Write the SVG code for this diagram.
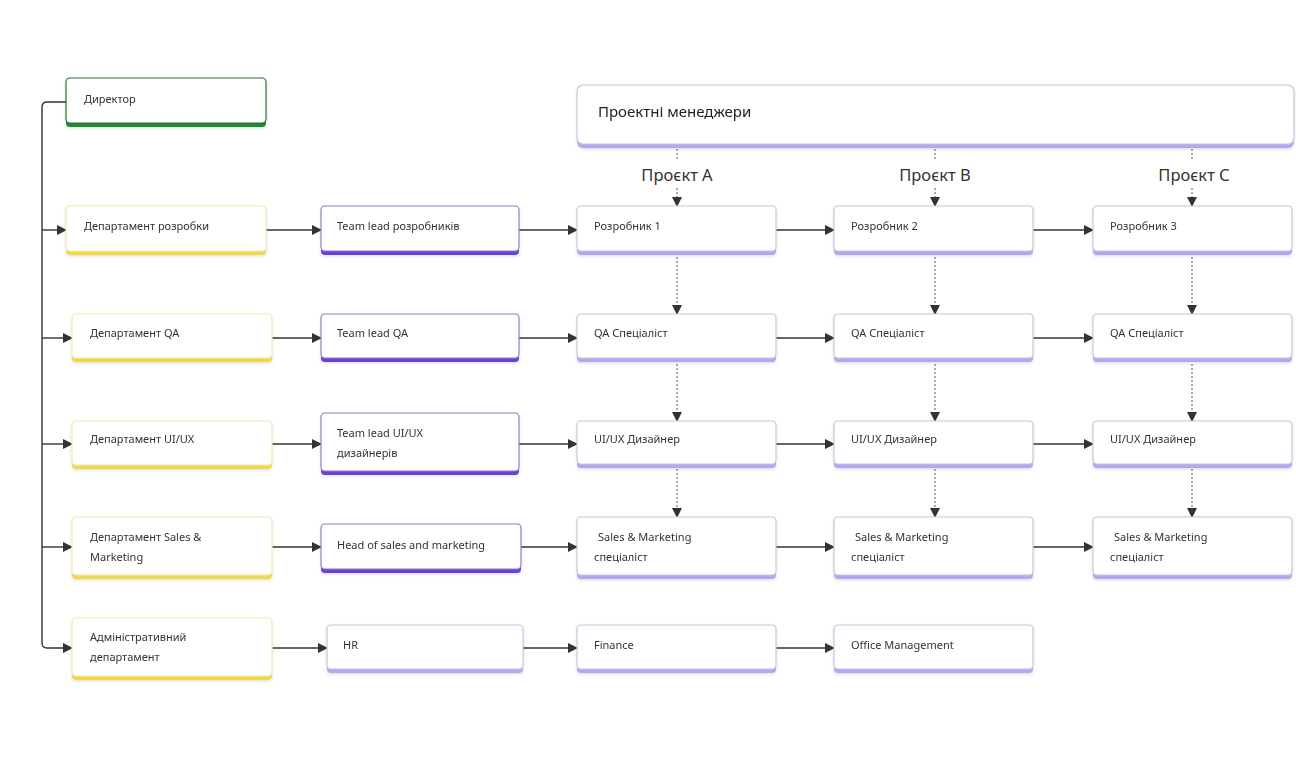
<svg xmlns="http://www.w3.org/2000/svg" width="1296" height="758" viewBox="0 0 1296 758">
<style>
text{font-family:"Noto Sans","Liberation Sans",sans-serif;font-size:11px;fill:#333}
.big{font-size:15px;fill:#222}
.proj{font-size:16.5px;fill:#333}
.card{fill:#fff;stroke-width:1.2}
.g .acc{fill:#1f8a33}.g .card{stroke:#2f6e3a}
.y .acc{fill:#f0d84a}.y .card{stroke:#f3eab0}
.p .acc{fill:#6a3fd8}.p .card{stroke:#8f80c8}
.l .acc{fill:#b3a6f2}.l .card{stroke:#c9c6dc}
.c{fill:none;stroke:#333;stroke-width:1.4}
.d{fill:none;stroke:#555;stroke-width:1;stroke-dasharray:2 2}
</style>
<defs>
<marker id="ah" viewBox="0 0 10 10" refX="9" refY="5" markerWidth="10" markerHeight="10" markerUnits="userSpaceOnUse" orient="auto"><path d="M0,0 L10,5 L0,10 z" fill="#333"/></marker>
<filter id="sh" x="-5%" y="-20%" width="110%" height="150%"><feDropShadow dx="0" dy="1.5" stdDeviation="1.5" flood-color="#000" flood-opacity="0.12"/></filter>
</defs>
<rect width="1296" height="758" fill="#fff"/>

<g id="connectors">
<path class="c" d="M66,102 H47 Q42,102 42,107 V643 Q42,648 47,648 H72" marker-end="url(#ah)"/>
<path class="c" d="M42,230 H66" marker-end="url(#ah)"/>
<path class="c" d="M42,338 H72" marker-end="url(#ah)"/>
<path class="c" d="M42,444 H72" marker-end="url(#ah)"/>
<path class="c" d="M42,547 H72" marker-end="url(#ah)"/>
<path class="c" d="M266,230 H321" marker-end="url(#ah)"/>
<path class="c" d="M272,338 H321" marker-end="url(#ah)"/>
<path class="c" d="M272,444 H321" marker-end="url(#ah)"/>
<path class="c" d="M272,547 H321" marker-end="url(#ah)"/>
<path class="c" d="M272,648 H327" marker-end="url(#ah)"/>
<path class="c" d="M519,230 H577" marker-end="url(#ah)"/>
<path class="c" d="M519,338 H577" marker-end="url(#ah)"/>
<path class="c" d="M519,444 H577" marker-end="url(#ah)"/>
<path class="c" d="M521,547 H577" marker-end="url(#ah)"/>
<path class="c" d="M523,648 H577" marker-end="url(#ah)"/>
<path class="c" d="M776,230 H834" marker-end="url(#ah)"/>
<path class="c" d="M776,338 H834" marker-end="url(#ah)"/>
<path class="c" d="M776,444 H834" marker-end="url(#ah)"/>
<path class="c" d="M776,547 H834" marker-end="url(#ah)"/>
<path class="c" d="M776,648 H834" marker-end="url(#ah)"/>
<path class="c" d="M1033,230 H1093" marker-end="url(#ah)"/>
<path class="c" d="M1033,338 H1093" marker-end="url(#ah)"/>
<path class="c" d="M1033,444 H1093" marker-end="url(#ah)"/>
<path class="c" d="M1033,547 H1093" marker-end="url(#ah)"/>
<path class="d" d="M677,149 V160 M677,188 V206" marker-end="url(#ah)"/>
<path class="d" d="M935,149 V160 M935,188 V206" marker-end="url(#ah)"/>
<path class="d" d="M1192,149 V160 M1192,188 V206" marker-end="url(#ah)"/>
<path class="d" d="M677,257 V314" marker-end="url(#ah)"/>
<path class="d" d="M935,257 V314" marker-end="url(#ah)"/>
<path class="d" d="M1192,257 V314" marker-end="url(#ah)"/>
<path class="d" d="M677,364 V421" marker-end="url(#ah)"/>
<path class="d" d="M935,364 V421" marker-end="url(#ah)"/>
<path class="d" d="M1192,364 V421" marker-end="url(#ah)"/>
<path class="d" d="M677,469 V517" marker-end="url(#ah)"/>
<path class="d" d="M935,469 V517" marker-end="url(#ah)"/>
<path class="d" d="M1192,469 V517" marker-end="url(#ah)"/>
<text class="proj" x="677" y="181" text-anchor="middle">Проєкт А</text>
<text class="proj" x="935" y="181" text-anchor="middle">Проєкт В</text>
<text class="proj" x="1194" y="181" text-anchor="middle">Проєкт С</text>
</g>

<g id="director" class="g" filter="url(#sh)"><rect class="acc" x="66" y="78" width="200" height="49" rx="4"/><rect class="card" x="66" y="78" width="200" height="45" rx="4"/><text x="84" y="103">Директор</text></g>

<g id="pm" class="l" filter="url(#sh)"><rect class="acc" x="577" y="85" width="717" height="63" rx="6"/><rect class="card" x="577" y="85" width="717" height="59" rx="6"/><text class="big" x="598" y="117">Проектні менеджери</text></g>

<g id="dep-dev" class="y" filter="url(#sh)"><rect class="acc" x="66" y="206" width="200" height="49" rx="4"/><rect class="card" x="66" y="206" width="200" height="45" rx="4"/><text x="84" y="230">Департамент розробки</text></g>
<g id="dep-qa" class="y" filter="url(#sh)"><rect class="acc" x="72" y="314" width="200" height="48" rx="4"/><rect class="card" x="72" y="314" width="200" height="44" rx="4"/><text x="90" y="337">Департамент QA</text></g>
<g id="dep-uiux" class="y" filter="url(#sh)"><rect class="acc" x="72" y="421" width="200" height="48" rx="4"/><rect class="card" x="72" y="421" width="200" height="44" rx="4"/><text x="90" y="443">Департамент UI/UX</text></g>
<g id="dep-sales" class="y" filter="url(#sh)"><rect class="acc" x="72" y="517" width="200" height="62" rx="4"/><rect class="card" x="72" y="517" width="200" height="58" rx="4"/><text x="90" y="541">Департамент Sales &amp;</text><text x="90" y="561">Marketing</text></g>
<g id="dep-admin" class="y" filter="url(#sh)"><rect class="acc" x="72" y="618" width="200" height="62" rx="4"/><rect class="card" x="72" y="618" width="200" height="58" rx="4"/><text x="90" y="641">Адміністративний</text><text x="90" y="661">департамент</text></g>

<g id="tl-dev" class="p" filter="url(#sh)"><rect class="acc" x="321" y="206" width="198" height="49" rx="4"/><rect class="card" x="321" y="206" width="198" height="45" rx="4"/><text x="337" y="230">Team lead розробників</text></g>
<g id="tl-qa" class="p" filter="url(#sh)"><rect class="acc" x="321" y="314" width="198" height="48" rx="4"/><rect class="card" x="321" y="314" width="198" height="44" rx="4"/><text x="337" y="337">Team lead QA</text></g>
<g id="tl-uiux" class="p" filter="url(#sh)"><rect class="acc" x="321" y="413" width="198" height="62" rx="4"/><rect class="card" x="321" y="413" width="198" height="58" rx="4"/><text x="337" y="437">Team lead UI/UX</text><text x="337" y="457">дизайнерів</text></g>
<g id="head-sales" class="p" filter="url(#sh)"><rect class="acc" x="321" y="524" width="200" height="49" rx="4"/><rect class="card" x="321" y="524" width="200" height="45" rx="4"/><text x="337" y="549">Head of sales and marketing</text></g>
<g id="hr" class="l" filter="url(#sh)"><rect class="acc" x="327" y="625" width="196" height="48" rx="4"/><rect class="card" x="327" y="625" width="196" height="44" rx="4"/><text x="343" y="649">HR</text></g>

<g id="dev1" class="l" filter="url(#sh)"><rect class="acc" x="577" y="206" width="199" height="49" rx="4"/><rect class="card" x="577" y="206" width="199" height="45" rx="4"/><text x="594" y="230">Розробник 1</text></g>
<g id="qa1" class="l" filter="url(#sh)"><rect class="acc" x="577" y="314" width="199" height="48" rx="4"/><rect class="card" x="577" y="314" width="199" height="44" rx="4"/><text x="594" y="337">QA Спеціаліст</text></g>
<g id="ux1" class="l" filter="url(#sh)"><rect class="acc" x="577" y="421" width="199" height="47" rx="4"/><rect class="card" x="577" y="421" width="199" height="43" rx="4"/><text x="594" y="443">UI/UX Дизайнер</text></g>
<g id="sm1" class="l" filter="url(#sh)"><rect class="acc" x="577" y="517" width="199" height="62" rx="4"/><rect class="card" x="577" y="517" width="199" height="58" rx="4"/><text x="598" y="541">Sales &amp; Marketing</text><text x="594" y="561">спеціаліст</text></g>
<g id="finance" class="l" filter="url(#sh)"><rect class="acc" x="577" y="625" width="199" height="48" rx="4"/><rect class="card" x="577" y="625" width="199" height="44" rx="4"/><text x="594" y="649">Finance</text></g>

<g id="dev2" class="l" filter="url(#sh)"><rect class="acc" x="834" y="206" width="199" height="49" rx="4"/><rect class="card" x="834" y="206" width="199" height="45" rx="4"/><text x="851" y="230">Розробник 2</text></g>
<g id="qa2" class="l" filter="url(#sh)"><rect class="acc" x="834" y="314" width="199" height="48" rx="4"/><rect class="card" x="834" y="314" width="199" height="44" rx="4"/><text x="851" y="337">QA Спеціаліст</text></g>
<g id="ux2" class="l" filter="url(#sh)"><rect class="acc" x="834" y="421" width="199" height="47" rx="4"/><rect class="card" x="834" y="421" width="199" height="43" rx="4"/><text x="851" y="443">UI/UX Дизайнер</text></g>
<g id="sm2" class="l" filter="url(#sh)"><rect class="acc" x="834" y="517" width="199" height="62" rx="4"/><rect class="card" x="834" y="517" width="199" height="58" rx="4"/><text x="855" y="541">Sales &amp; Marketing</text><text x="851" y="561">спеціаліст</text></g>
<g id="office" class="l" filter="url(#sh)"><rect class="acc" x="834" y="625" width="199" height="48" rx="4"/><rect class="card" x="834" y="625" width="199" height="44" rx="4"/><text x="851" y="649">Office Management</text></g>

<g id="dev3" class="l" filter="url(#sh)"><rect class="acc" x="1093" y="206" width="199" height="49" rx="4"/><rect class="card" x="1093" y="206" width="199" height="45" rx="4"/><text x="1110" y="230">Розробник 3</text></g>
<g id="qa3" class="l" filter="url(#sh)"><rect class="acc" x="1093" y="314" width="199" height="48" rx="4"/><rect class="card" x="1093" y="314" width="199" height="44" rx="4"/><text x="1110" y="337">QA Спеціаліст</text></g>
<g id="ux3" class="l" filter="url(#sh)"><rect class="acc" x="1093" y="421" width="199" height="47" rx="4"/><rect class="card" x="1093" y="421" width="199" height="43" rx="4"/><text x="1110" y="443">UI/UX Дизайнер</text></g>
<g id="sm3" class="l" filter="url(#sh)"><rect class="acc" x="1093" y="517" width="199" height="62" rx="4"/><rect class="card" x="1093" y="517" width="199" height="58" rx="4"/><text x="1114" y="541">Sales &amp; Marketing</text><text x="1110" y="561">спеціаліст</text></g>
</svg>
